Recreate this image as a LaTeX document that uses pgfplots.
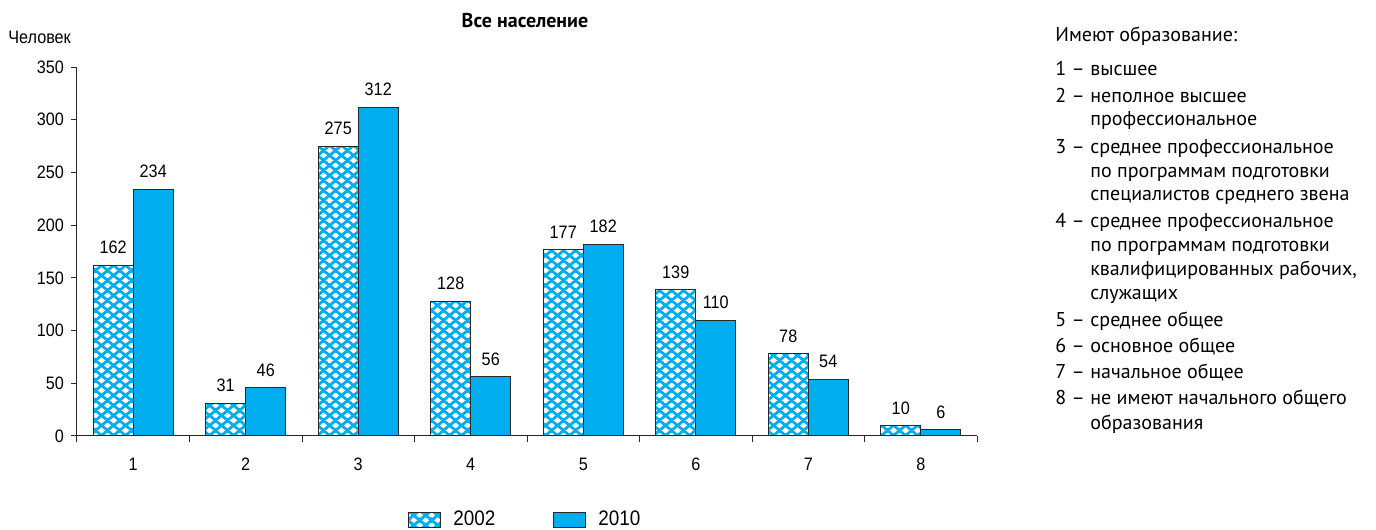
\documentclass[border=0pt]{standalone}
\usepackage{fontspec}
\setmainfont{PT Sans}
\newfontfamily\numfont{Liberation Sans}[FakeStretch=0.9]
\usepackage{pgfplots}
\pgfplotsset{compat=1.18}
\usetikzlibrary{patterns.meta}
\definecolor{barblue}{RGB}{0,174,239}
\definecolor{edge}{RGB}{40,40,40}
\tikzdeclarepattern{
  name=bluenet,
  type=colored,
  bottom left={(0pt,0pt)},
  top right={(6pt,5pt)},
  tile size={(6pt,5pt)},
  code={
    \draw[line width=1.5pt, draw=barblue] (-1.2pt,-1pt) -- (7.2pt,6pt) (-1.2pt,6pt) -- (7.2pt,-1pt);
  }
}
\pgfplotstableread{
x y
1 162
2 31
3 275
4 128
5 177
6 139
7 78
8 10
}\dataA
\pgfplotstableread{
x y
1 234
2 46
3 312
4 56
5 182
6 110
7 54
8 6
}\dataB
\newcommand{\numf}{\numfont\fontsize{9}{10}\selectfont}
\newcommand{\itm}[3]{\node at (527.5pt,#1) {\makebox[17.5pt][l]{#2 –}#3};}
\newcommand{\ctn}[2]{\node at (545pt,#1) {#2};}
\begin{document}
\begin{tikzpicture}
\useasboundingbox (0,0) rectangle (688pt,265pt);
\begin{axis}[
  at={(38.5pt,47pt)}, anchor=south west,
  scale only axis, width=450pt, height=184.5pt,
  xmin=0.5, xmax=8.5, ymin=0, ymax=350,
  axis lines=left, axis line style={-, draw=edge, line width=0.5pt},
  ybar=0pt, bar width=20pt,
  ytick={0,50,...,350},
  xtick={0.5,1.5,...,8.5}, xticklabels={},
  extra x ticks={1,...,8}, extra x tick labels={1,2,3,4,5,6,7,8},
  extra x tick style={major tick length=0pt, xticklabel style={yshift=-7.5pt}},
  tick align=outside, major tick length=3pt,
  tick style={draw=edge, line width=0.5pt},
  ticklabel style={font=\numf, text=black},
  /pgf/number format/assume math mode=true,
  nodes near coords,
  nodes near coords style={font=\numf, text=black, yshift=2pt},
  legend style={at={(0.4994,-0.228)}, anchor=center, draw=none, fill=none,
    legend columns=2, font=\numfont\fontsize{10.5}{12}\selectfont,
    /tikz/every even column/.append style={column sep=27pt}},
  legend image code/.code={\draw[#1] (0pt,-3.75pt) rectangle (16pt,3.75pt); \path (20pt,0pt);},
]
\addplot[fill=white, draw=edge, line width=0.5pt, postaction={pattern=bluenet}] table[x=x,y=y] {\dataA};
\addplot[fill=barblue, draw=edge, line width=0.5pt] table[x=x,y=y] {\dataB};
\legend{2002,2010}
\end{axis}
\node[anchor=base, font=\bfseries\fontsize{10}{12}\selectfont] at (262.5pt,251pt) {Все население};
\node[anchor=base west, inner sep=0pt, font=\numfont\fontsize{9}{10}\selectfont] at (4pt,243pt) {Человек};
\begin{scope}[every node/.style={anchor=base west, inner sep=0pt, font=\fontsize{10}{12}\selectfont}]
\node at (527.5pt,244pt) {Имеют образование:};
\itm{227pt}{1}{высшее}
\itm{213.5pt}{2}{неполное высшее}
\ctn{202pt}{профессиональное}
\itm{188pt}{3}{среднее профессиональное}
\ctn{176pt}{по программам подготовки}
\ctn{164.5pt}{специалистов среднего звена}
\itm{151pt}{4}{среднее профессиональное}
\ctn{139pt}{по программам подготовки}
\ctn{127pt}{квалифицированных рабочих,}
\ctn{115pt}{служащих}
\itm{101.5pt}{5}{среднее общее}
\itm{88.5pt}{6}{основное общее}
\itm{75.5pt}{7}{начальное общее}
\itm{62.5pt}{8}{не имеют начального общего}
\ctn{50pt}{образования}
\end{scope}
\end{tikzpicture}
\end{document}
